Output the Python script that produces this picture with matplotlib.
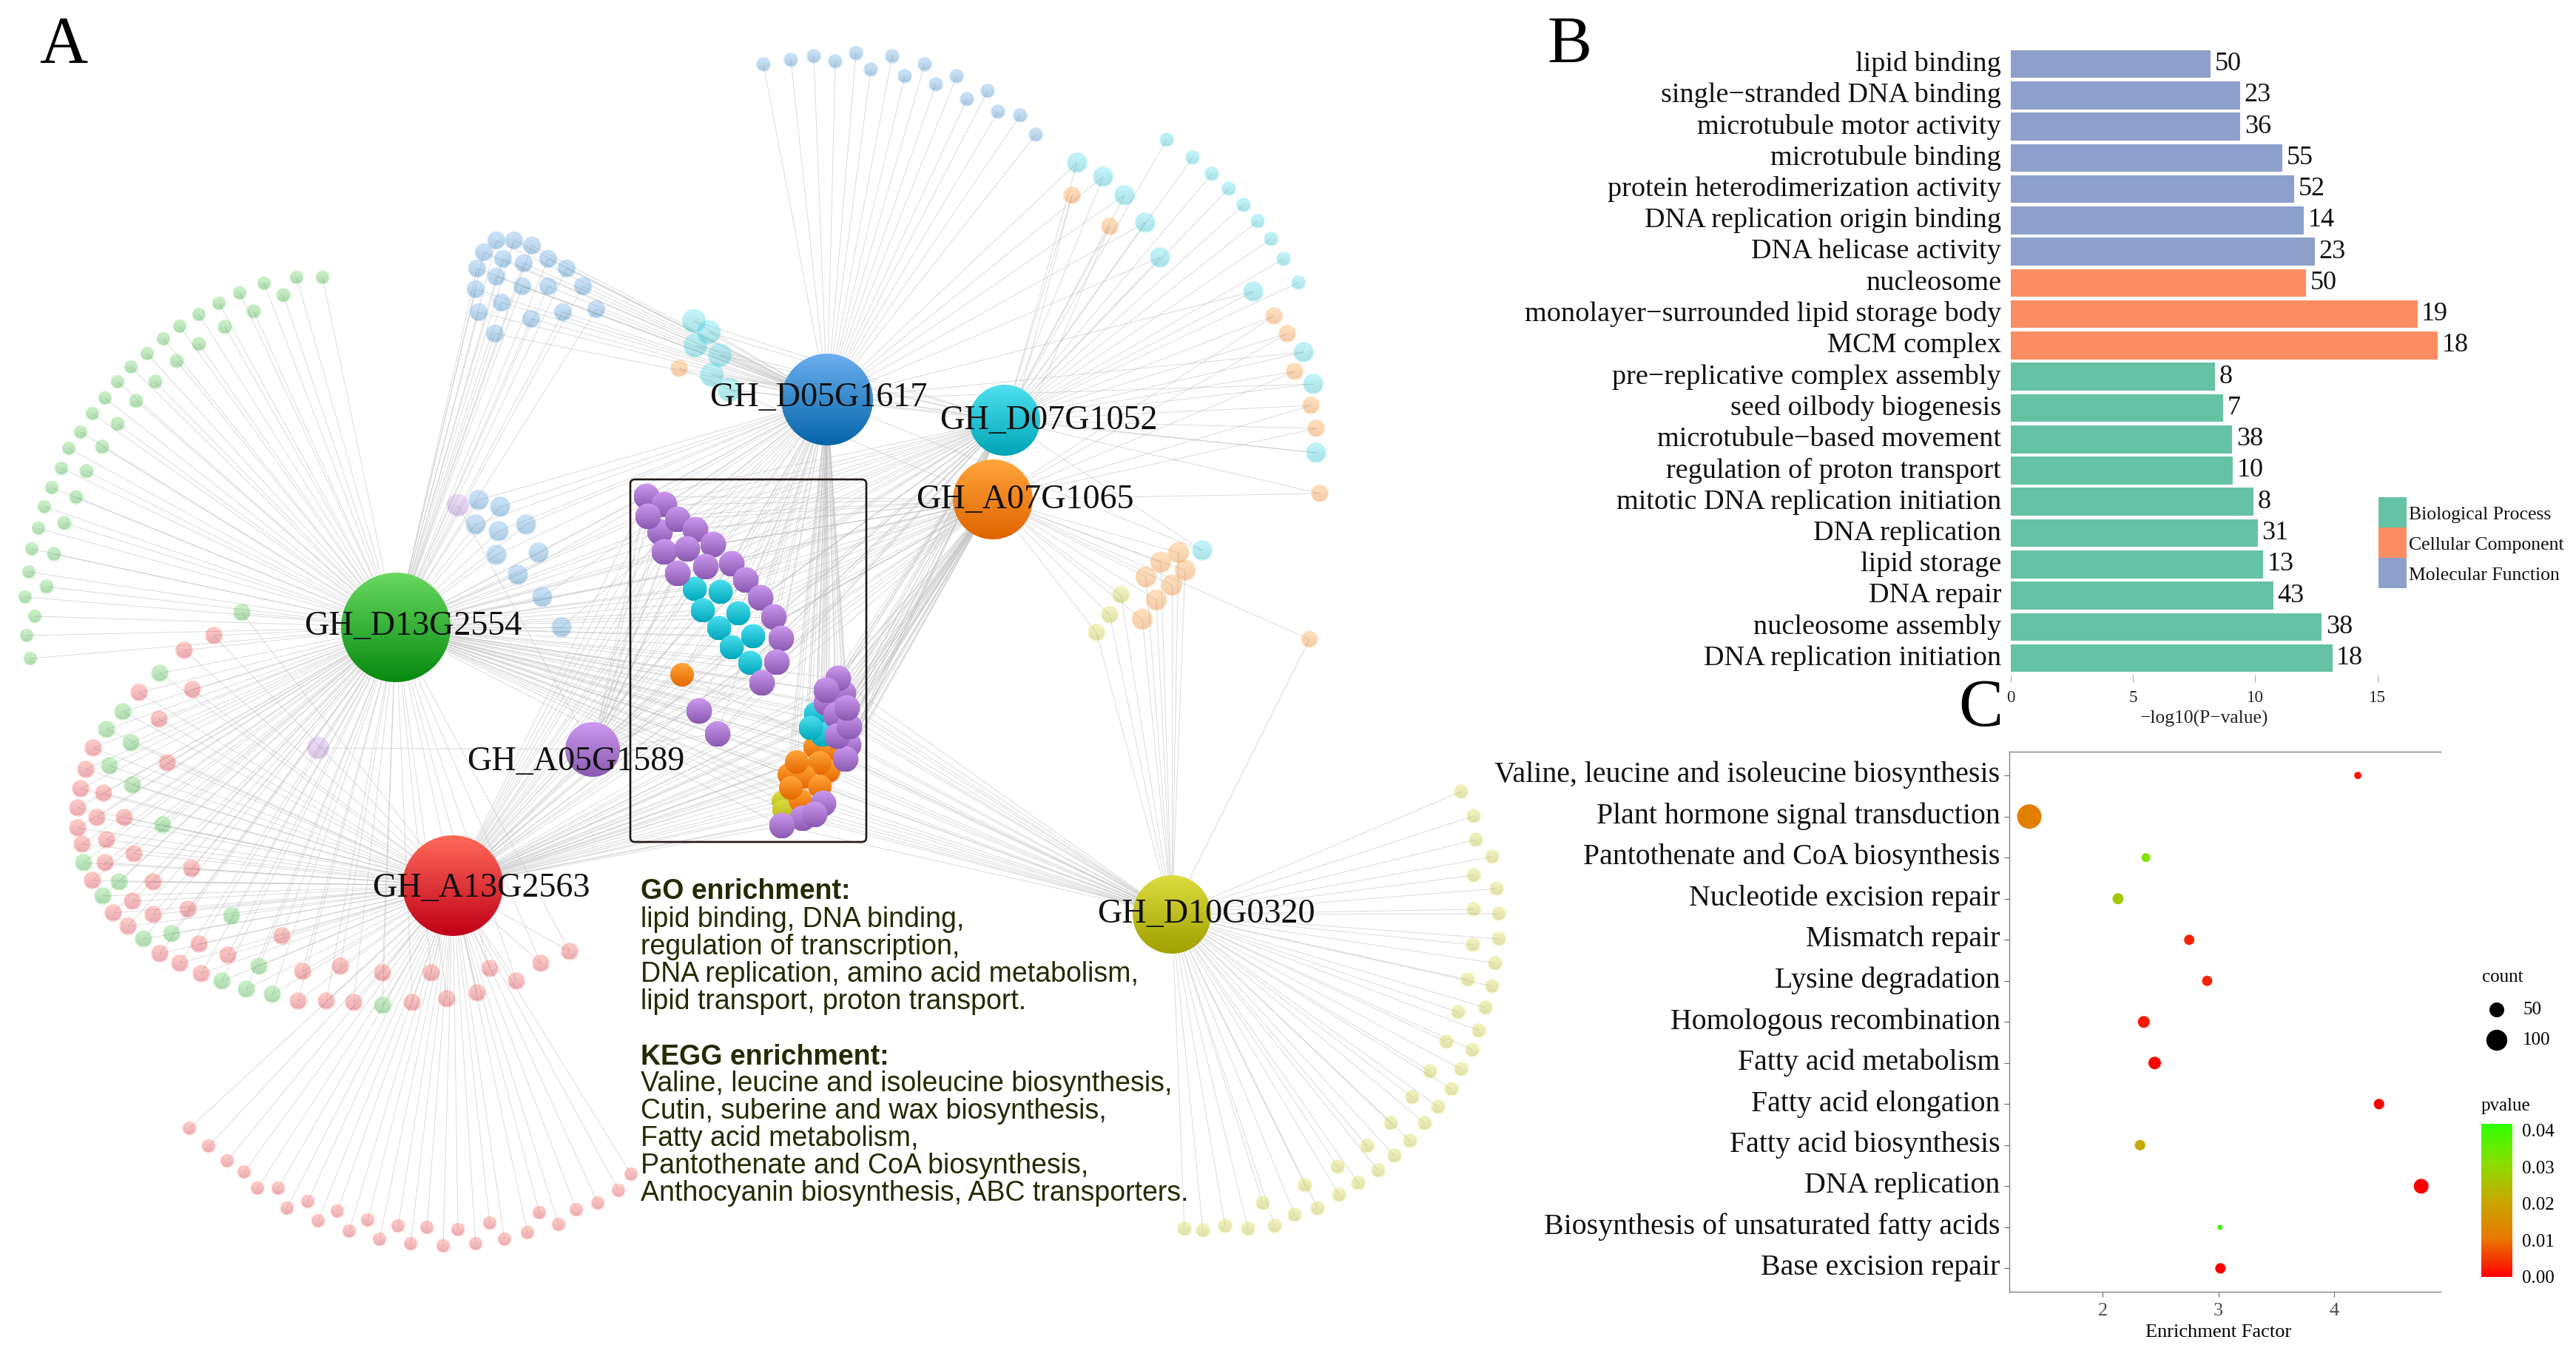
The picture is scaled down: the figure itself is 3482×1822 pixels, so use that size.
import numpy as np
import matplotlib
matplotlib.use("Agg")
import matplotlib.pyplot as plt
from matplotlib.collections import LineCollection
from matplotlib.colors import LinearSegmentedColormap, Normalize, to_rgb
from matplotlib.cm import ScalarMappable
from matplotlib.patches import Circle, FancyBboxPatch, Rectangle
from matplotlib.transforms import ScaledTranslation

plt.rcParams["font.family"] = ["Liberation Serif", "DejaVu Serif"]

W, H = 3482, 1822

# --- network: hubs, positions read in picture pixels ---
hub_names = ["GH_D05G1617", "GH_D07G1052", "GH_A07G1065", "GH_D13G2554",
             "GH_A05G1589", "GH_A13G2563", "GH_D10G0320"]
hub_xy = [(1118, 540), (1358, 568), (1342, 675), (535, 848), (801, 1013), (612, 1197), (1584, 1236)]
hub_r = [62, 48, 54, 74, 37, 68, 53]
hub_top = ["#6aaeee", "#4de0f0", "#ffa53a", "#68d860", "#cc99f0", "#ff6a5a", "#dcdc40"]
hub_bottom = ["#0565a8", "#00a5b5", "#e06400", "#088a10", "#8a5ab0", "#c00018", "#a0a000"]
hub_label_xy = [(1106, 538), (1417, 569), (1385, 676), (558, 847), (778, 1030), (650, 1201), (1630, 1236)]

green_outer = [(436, 375), (401, 375), (357, 383), (324, 396), (296, 410), (269, 425), (243, 441), (221, 458),
               (199, 478), (177, 496), (159, 516), (142, 538), (125, 559), (109, 584), (93, 606), (83, 633),
               (70, 659), (60, 685), (52, 714), (43, 742), (39, 773), (34, 807), (47, 833), (36, 859), (41, 890)]
green_inner = [(383, 399), (343, 421), (304, 442), (269, 465), (239, 488), (210, 516), (184, 542), (159, 573),
               (138, 604), (117, 637), (103, 672), (87, 707), (73, 749), (63, 793)]
green_lower = [(327, 828), (216, 910), (166, 962), (144, 986), (177, 1004), (148, 1035), (179, 1061), (220, 1115),
               (113, 1166), (161, 1192), (139, 1211), (313, 1238), (232, 1262), (194, 1269), (350, 1306),
               (300, 1326), (333, 1337), (368, 1344), (517, 1359)]
red_inner = [(289, 859), (249, 879), (260, 932), (188, 936), (215, 972), (126, 1011), (226, 1031), (116, 1040),
             (109, 1066), (140, 1072), (105, 1092), (131, 1105), (168, 1105), (105, 1119), (144, 1135), (111, 1141),
             (181, 1154), (142, 1166), (259, 1174), (125, 1190), (207, 1192), (179, 1218), (153, 1234), (207, 1236),
             (254, 1229), (173, 1252), (381, 1265), (269, 1276), (216, 1289), (308, 1291), (243, 1302), (272, 1316),
             (409, 1313), (460, 1306), (517, 1315), (583, 1315), (662, 1309), (731, 1302), (770, 1286), (403, 1353),
             (441, 1353), (478, 1355), (557, 1355), (604, 1350), (645, 1342), (698, 1326)]
red_outer = [(256, 1525), (282, 1549), (307, 1569), (330, 1584), (348, 1606), (376, 1606), (388, 1633), (416, 1624),
             (430, 1650), (456, 1637), (472, 1664), (497, 1649), (513, 1675), (538, 1657), (555, 1681), (577, 1659),
             (599, 1684), (619, 1662), (643, 1681), (662, 1653), (682, 1675), (713, 1666), (729, 1639), (755, 1655),
             (779, 1635), (808, 1626), (836, 1609), (853, 1587)]
blue_cluster = [(671, 325), (695, 325), (719, 332), (654, 341), (680, 350), (741, 350), (766, 363), (708, 356),
                (645, 363), (671, 374), (706, 387), (741, 387), (788, 387), (643, 391), (678, 409), (806, 418),
                (647, 422), (761, 422), (718, 431), (669, 451)]
blue_lower = [(647, 676), (676, 685), (643, 709), (711, 709), (674, 718), (671, 750), (728, 747), (700, 777),
              (733, 807), (759, 848)]
blue_top = [(1032, 87), (1069, 81), (1100, 76), (1129, 83), (1157, 72), (1177, 94), (1206, 76), (1223, 103),
            (1250, 87), (1265, 114), (1293, 103), (1307, 134), (1335, 123), (1349, 151), (1379, 156), (1400, 182)]
cyan_arc = [(1577, 189), (1612, 213), (1638, 235), (1661, 255), (1681, 277), (1700, 299), (1718, 323), (1735, 350),
            (1755, 382)]
cyan_big = [(1456, 220), (1491, 239), (1520, 264), (1548, 301), (1568, 348), (1694, 394), (1762, 476), (1775, 519),
            (1779, 612), (1625, 744)]
cyan_left = [(938, 434), (958, 449), (940, 467), (973, 480), (962, 507), (986, 527)]
orange_pale = [(1449, 264), (1500, 306), (1722, 427), (1740, 451), (1750, 502), (1772, 548), (1779, 579),
               (1784, 667), (918, 498)]
orange_cluster = [(1593, 747), (1569, 760), (1602, 771), (1549, 780), (1584, 791), (1563, 811), (1544, 837)]
orange_far = [(1770, 864)]
yellow_pale = [(1515, 804), (1500, 831), (1482, 855)]
yellow_arc = [(1975, 1070), (1992, 1103), (1995, 1135), (2017, 1158), (1992, 1183), (2023, 1201), (1992, 1229),
              (2026, 1235), (2026, 1269), (1991, 1277), (2021, 1302), (1984, 1324), (2017, 1333), (2008, 1362),
              (1971, 1368), (1999, 1393), (1955, 1408), (1990, 1419), (1933, 1448), (1975, 1445), (1962, 1472),
              (1909, 1483), (1944, 1496), (1926, 1518), (1880, 1518), (1906, 1542), (1848, 1549), (1885, 1562),
              (1863, 1582), (1808, 1577), (1836, 1599), (1810, 1615), (1764, 1602), (1781, 1633), (1750, 1642),
              (1707, 1626), (1723, 1657), (1687, 1661), (1656, 1657), (1626, 1663), (1601, 1661)]
purple_pale = [(619, 683), (430, 1011)]

# the solid nodes inside the box
box_yellow = [(1057, 1083), (1058, 1095)]
box_orange = [(922, 912), (1102, 1010), (1123, 1015), (1120, 1042), (1108, 1031), (1067, 1047), (1087, 1050),
              (1077, 1030), (1108, 1063), (1082, 1082), (1069, 1065)]
box_cyan = [(939, 796), (974, 800), (950, 825), (998, 829), (972, 849), (1018, 860), (989, 875), (1014, 896),
            (1103, 965), (1112, 993), (1096, 984)]
box_purple_up = [(874, 671), (898, 682), (892, 719), (876, 698), (916, 702), (940, 716), (964, 736), (898, 746),
                 (929, 742), (954, 766), (989, 762), (916, 775), (1008, 784), (1028, 808), (1046, 834), (1056, 863),
                 (1050, 895), (1030, 923), (945, 961), (970, 992)]
box_purple_low = [(1140, 937), (1133, 917), (1117, 950), (1117, 933), (1130, 967), (1147, 1007), (1143, 1026),
                  (1132, 995), (1148, 982), (1145, 957), (1113, 1086), (1085, 1106), (1101, 1101), (1057, 1116)]

enrich_bold = ["GO enrichment:", "KEGG enrichment:"]
enrich_bold_y = [1205, 1429]
enrich_lines = ["lipid binding, DNA binding,", "regulation of transcription,",
                "DNA replication, amino acid metabolism,", "lipid transport, proton transport.",
                "Valine, leucine and isoleucine biosynthesis,", "Cutin, suberine and wax biosynthesis,",
                "Fatty acid metabolism,", "Pantothenate and CoA biosynthesis,",
                "Anthocyanin biosynthesis, ABC transporters."]
enrich_y = [1243, 1280, 1317, 1354, 1465, 1502, 1539, 1576, 1613]

# --- panel B ---
go_terms = ["lipid binding", "single−stranded DNA binding", "microtubule motor activity", "microtubule binding",
            "protein heterodimerization activity", "DNA replication origin binding", "DNA helicase activity",
            "nucleosome", "monolayer−surrounded lipid storage body", "MCM complex",
            "pre−replicative complex assembly", "seed oilbody biogenesis", "microtubule−based movement",
            "regulation of proton transport", "mitotic DNA replication initiation", "DNA replication",
            "lipid storage", "DNA repair", "nucleosome assembly", "DNA replication initiation"]
go_logp = [8.17, 9.37, 9.39, 11.10, 11.59, 11.98, 12.44, 12.07, 16.62, 17.45,
           8.34, 8.68, 9.05, 9.08, 9.93, 10.10, 10.33, 10.73, 12.72, 13.15]
go_counts = [50, 23, 36, 55, 52, 14, 23, 50, 19, 18, 8, 7, 38, 10, 8, 31, 13, 43, 38, 18]
go_class = ["MF"] * 7 + ["CC"] * 3 + ["BP"] * 10
class_names = ["Biological Process", "Cellular Component", "Molecular Function"]
class_colors = {"BP": "#66c2a5", "CC": "#fc8d62", "MF": "#8da0cb"}

# --- panel C ---
kegg_terms = ["Valine, leucine and isoleucine biosynthesis", "Plant hormone signal transduction",
              "Pantothenate and CoA biosynthesis", "Nucleotide excision repair", "Mismatch repair",
              "Lysine degradation", "Homologous recombination", "Fatty acid metabolism", "Fatty acid elongation",
              "Fatty acid biosynthesis", "DNA replication", "Biosynthesis of unsaturated fatty acids",
              "Base excision repair"]
kegg_factor = [4.205, 1.367, 2.374, 2.133, 2.748, 2.903, 2.356, 2.45, 4.388, 2.324, 4.752, 3.014, 3.018]
kegg_count = [12, 136, 18, 28, 24, 24, 32, 36, 25, 25, 50, 6, 25]
kegg_pvalue = [0.002, 0.012, 0.032, 0.027, 0.003, 0.003, 0.002, 0.0005, 0.0, 0.021, 0.0, 0.041, 0.0005]


def px_axes(fig, left, top, right, bottom):
    return fig.add_axes([left / W, 1 - bottom / H, (right - left) / W, (bottom - top) / H])


def gradient_node(ax, x, y, r, top, bottom, alpha=1.0, zorder=4):
    c0, c1 = np.array(to_rgb(top)), np.array(to_rgb(bottom))
    t = np.linspace(0, 1, 48)[:, None, None]
    grad = c0[None, None, :] * (1 - t) + c1[None, None, :] * t
    im = ax.imshow(grad, extent=(x - r, x + r, y + r, y - r), aspect="auto", zorder=zorder,
                   interpolation="bilinear", alpha=alpha)
    im.set_clip_path(Circle((x, y), r, transform=ax.transData))


def pale_nodes(ax, nodes, r, hub):
    # washed-out copy of the hub colour, the edges stay visible through it
    for (x, y) in nodes:
        gradient_node(ax, x, y, r - 1, hub_top[hub], hub_bottom[hub], alpha=0.33, zorder=3)
        ax.add_patch(Circle((x, y), r - 0.5, fill=False, ec=hub_top[hub], lw=1.3, alpha=0.3, zorder=3))


def shift_labels(labels, fig, dy_px):
    # tick labels sit a bit above the tick in the original
    offset = ScaledTranslation(0, dy_px / 100, fig.dpi_scale_trans)
    for lab in labels:
        lab.set_transform(lab.get_transform() + offset)


fig = plt.figure(figsize=(W / 100, H / 100), dpi=100)
ax = fig.add_axes([0, 0, 1, 1])

# edges go under everything; each group links to the hubs listed here
edge_groups = [
    (green_outer, [3]), (green_inner, [3]), (green_lower, [3, 5]), (red_inner, [5, 3]), (red_outer, [5]),
    (blue_cluster, [0, 3]), (blue_lower, [0, 3]), (blue_top, [0]), (cyan_arc, [1]), (cyan_big, [0, 1]),
    (cyan_left, [0, 1]), (orange_pale, [2, 1]), (orange_cluster, [2, 6]), (orange_far, [2, 6]),
    (yellow_pale, [2, 6]), (yellow_arc, [6]), (purple_pale, [4, 3]),
    (box_yellow, [2, 6, 5]), (box_orange, [0, 2, 3, 5, 6]), (box_cyan, [0, 1, 2, 3, 5]),
    (box_purple_up, [0, 1, 2, 3, 4, 5]), (box_purple_low, [0, 1, 2, 3, 5, 6]),
]
segs = []
for nodes, hubs in edge_groups:
    for n in nodes:
        for h in hubs:
            segs.append([n, hub_xy[h]])
ax.add_collection(LineCollection(segs, colors="#c0c0c0", linewidths=0.65, alpha=0.6, zorder=1))

pale_nodes(ax, green_outer, 9, 3)
pale_nodes(ax, green_inner, 9.5, 3)
pale_nodes(ax, green_lower, 11.5, 3)
pale_nodes(ax, red_inner, 11.5, 5)
pale_nodes(ax, red_outer, 9, 5)
pale_nodes(ax, blue_cluster, 12, 0)
pale_nodes(ax, blue_lower, 13.5, 0)
pale_nodes(ax, blue_top, 9.5, 0)
pale_nodes(ax, cyan_arc, 9.5, 1)
pale_nodes(ax, cyan_big, 13.5, 1)
pale_nodes(ax, cyan_left, 16, 1)
pale_nodes(ax, orange_pale, 11.5, 2)
pale_nodes(ax, orange_cluster, 14, 2)
pale_nodes(ax, orange_far, 11, 2)
pale_nodes(ax, yellow_pale, 11.5, 6)
pale_nodes(ax, yellow_arc, 9.5, 6)
pale_nodes(ax, purple_pale, 15, 4)

ax.add_patch(FancyBboxPatch((856, 652), 311, 482, boxstyle="round,pad=4,rounding_size=6",
                            fill=False, ec="#231815", lw=1.9, zorder=3.5))

for (x, y) in box_yellow:
    gradient_node(ax, x, y, 14, "#dcdc40", "#b4b414")
for (x, y) in box_orange:
    gradient_node(ax, x, y, 16, "#ffa53a", "#e46800")
for (x, y) in box_cyan:
    gradient_node(ax, x, y, 16.5, "#4de0f0", "#00a8bc")
for (x, y) in box_purple_up + box_purple_low:
    gradient_node(ax, x, y, 17.5, "#cc99f0", "#8a5ab0")

for i, name in enumerate(hub_names):
    gradient_node(ax, hub_xy[i][0], hub_xy[i][1], hub_r[i], hub_top[i], hub_bottom[i])
    ax.text(hub_label_xy[i][0], hub_label_xy[i][1], name, fontsize=33.2, ha="center", va="center",
            color="#111111", zorder=6)

for s, y in zip(enrich_bold, enrich_bold_y):
    ax.text(866, y, s, family="Liberation Sans", weight="bold", fontsize=27, color="#232b00", va="center", zorder=6)
for s, y in zip(enrich_lines, enrich_y):
    ax.text(866, y, s, family="Liberation Sans", fontsize=27, color="#232b00", va="center", zorder=6)

ax.text(53, 85, "A", fontsize=65, color="black", zorder=6)
ax.text(2091, 85, "B", fontsize=65, color="black", zorder=6)
ax.text(2647, 981, "C", fontsize=65, color="black", zorder=6)

# legend of panel B
for i, name in enumerate(class_names):
    key = ["BP", "CC", "MF"][i]
    ax.add_patch(Rectangle((3215, 672 + 41 * i), 38, 41, color=class_colors[key], lw=0, zorder=3))
    ax.text(3256, 696 + 41 * i, name, fontsize=18.5, va="center", color="#111111", zorder=6)

# legend of panel C
ax.text(3355, 1321, "count", fontsize=18, va="center", zorder=6)
ax.scatter([3375, 3375], [1365, 1406], s=[4.15 * 50, 4.15 * 100], color="black", linewidths=0, zorder=6)
ax.text(3410, 1365, "50", fontsize=18, va="center", zorder=6)
ax.text(3410, 1406, "100", fontsize=18, va="center", zorder=6)
ax.text(3354, 1495, "pvalue", fontsize=18, va="center", zorder=6)

ax.set_xlim(0, W)
ax.set_ylim(H, 0)
ax.axis("off")

# panel B
axb = px_axes(fig, 2717.5, 65, 3300, 912)
axb.patch.set_alpha(0)
y_pos = np.arange(len(go_terms))
axb.barh(y_pos, go_logp, height=0.89, color=[class_colors[c] for c in go_class])
for y, v, c in zip(y_pos, go_logp, go_counts):
    axb.text(v + 0.17, y, str(c), fontsize=26, va="center", color="#111111")
axb.set_xlim(0, 17.6)
axb.set_ylim(19.53, -0.509)
axb.set_yticks(y_pos, go_terms, fontsize=27.5, color="#111111")
axb.set_xticks([0, 5, 10, 15])
axb.tick_params(axis="y", length=0, pad=9)
axb.tick_params(axis="x", length=7, width=0.6, color="#999999", labelsize=16.6, labelcolor="#222222", pad=8)
axb.set_xlabel("−log10(P−value)", fontsize=18.4, labelpad=8, color="#222222")
axb.xaxis.set_label_coords(0.45, -0.056)
shift_labels(axb.get_yticklabels(), fig, 4)
for s in axb.spines.values():
    s.set_visible(False)

# panel C
axc = px_axes(fig, 2716, 1016, 3299, 1746)
cmap = LinearSegmentedColormap.from_list("pv", ["#ff0000", "#e87800", "#c8a800", "#88e000", "#30ff00"])
norm = Normalize(0, 0.0418)
y_c = np.arange(len(kegg_terms))
axc.scatter(kegg_factor, y_c, s=[4.15 * c for c in kegg_count], c=kegg_pvalue, cmap=cmap, norm=norm, linewidths=0)
axc.set_xlim(1.194, 4.92)
axc.set_ylim(12.57, -0.58)
axc.set_yticks(y_c, kegg_terms, fontsize=28.7, color="#111111")
axc.set_xticks([2, 3, 4])
axc.tick_params(axis="y", length=5, width=0.8, color="#666666", pad=4)
axc.tick_params(axis="x", length=5, width=0.8, color="#666666", labelsize=19, labelcolor="#4d4d4d", pad=6)
axc.set_xlabel("Enrichment Factor", fontsize=19, labelpad=1)
axc.xaxis.set_label_coords(0.484, -0.06)
shift_labels(axc.get_yticklabels(), fig, 5)
axc.spines["right"].set_visible(False)
for s in ["left", "top", "bottom"]:
    axc.spines[s].set_color("#808080")
    axc.spines[s].set_linewidth(1.0)

cax = px_axes(fig, 3354, 1519, 3396, 1726)
cb = fig.colorbar(ScalarMappable(norm=norm, cmap=cmap), cax=cax, ticks=[0, 0.01, 0.02, 0.03, 0.04])
cb.ax.set_yticklabels(["0.00", "0.01", "0.02", "0.03", "0.04"], fontsize=18)
cb.ax.tick_params(length=0, pad=9)
cb.outline.set_visible(False)

fig.savefig("out.png", dpi=100)
